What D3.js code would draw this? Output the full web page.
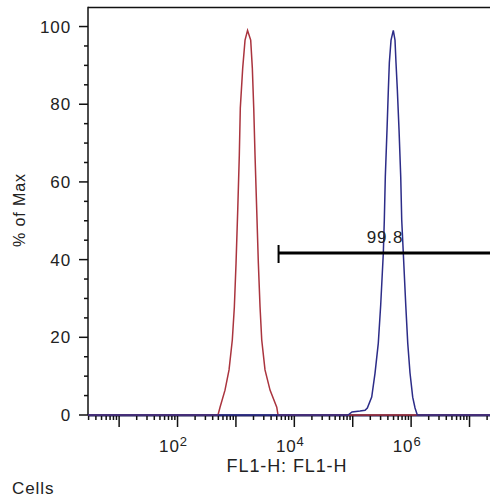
<!DOCTYPE html>
<html>
<head>
<meta charset="utf-8">
<script src="https://cdn.jsdelivr.net/npm/d3@7"></script>
<style>
  html, body { margin: 0; padding: 0; background: #fff; }
  svg { display: block; }
  text { font-family: "Liberation Sans", Arial, sans-serif; fill: #222; letter-spacing: 0.9px; }
</style>
</head>
<body>
<svg id="chart" width="490" height="498"></svg>
<script>
// ---------- data ----------
// x positions are log10(FL1-H) values; y values are "% of Max"
const redLog10 = [0.467, 2.693, 2.728, 2.813, 2.882, 2.938, 2.973, 3.002, 3.031, 3.058, 3.075, 3.116, 3.156, 3.199,
                  3.253, 3.281, 3.305, 3.327, 3.356, 3.384, 3.413, 3.442, 3.498, 3.584, 3.699, 3.721, 7.39];
const redPct   = [0, 0, 2.0, 6.4, 11.6, 19.3, 27.8, 39.1, 52.8, 66.9, 79.0, 89.3, 96.5, 99.0,
                  96.5, 89.3, 79.0, 66.9, 52.8, 39.1, 27.8, 19.3, 11.6, 6.4, 2.0, 0, 0];

const blueLog10 = [0.467, 4.920, 4.988, 5.125, 5.211, 5.250, 5.325, 5.382, 5.438, 5.479, 5.524, 5.541, 5.558, 5.587,
                   5.610, 5.627, 5.656, 5.695, 5.724, 5.741, 5.764, 5.793, 5.822, 5.839, 5.866, 5.908, 5.942,
                   5.981, 6.027, 6.067, 6.106, 7.39];
const bluePct   = [0, 0, 0.8, 1.0, 1.2, 1.8, 4.6, 10.8, 18.5, 28.3, 41.7, 50.2, 61.3, 73.4,
                   83.7, 90.7, 96.5, 99.0, 96.5, 90.7, 83.7, 73.4, 61.3, 50.2, 41.7, 28.3, 18.5,
                   10.8, 4.6, 1.8, 0, 0];

const xDomainLog10 = [0.467, 7.39];
const yDomain = [0, 104.9];
const yMajorTicks = [0, 20, 40, 60, 80, 100];
const yMinorStep = 5;
const xLabelDecades = [2, 4, 6];

const gateLog10 = [3.73, 7.39];
const gateLevel = 41.7;
const gateLabel = "99.8";

const xTitle = "FL1-H: FL1-H";
const yTitle = "% of Max";
const footer = "Cells";

// ---------- layout ----------
const L = 88, R = 492.3, T = 7.5, B = 415;
const svg = d3.select("#chart");

const x = d3.scaleLog().domain(xDomainLog10.map(e => Math.pow(10, e))).range([L, R]);
const y = d3.scaleLinear().domain(yDomain).range([B, T]);

// frame: left axis line, top border, bottom line
svg.append("line").attr("x1", L).attr("x2", R + 5).attr("y1", T).attr("y2", T)
  .attr("stroke", "#111").attr("stroke-width", 1.5);
svg.append("line").attr("x1", L).attr("x2", L).attr("y1", T - 0.75).attr("y2", B)
  .attr("stroke", "#111").attr("stroke-width", 1.5);
svg.append("line").attr("x1", L).attr("x2", R + 5).attr("y1", B + 0.4).attr("y2", B + 0.4)
  .attr("stroke", "#1a1a50").attr("stroke-width", 2.4);

// y ticks
const yMinor = d3.range(yDomain[0], 101, yMinorStep).filter(v => !yMajorTicks.includes(v));
svg.selectAll(".ymin").data(yMinor).enter().append("line")
  .attr("x1", L - 4).attr("x2", L).attr("y1", d => y(d)).attr("y2", d => y(d))
  .attr("stroke", "#111").attr("stroke-width", 1.5);
svg.selectAll(".ymaj").data(yMajorTicks).enter().append("line")
  .attr("x1", L - 9).attr("x2", L).attr("y1", d => y(d)).attr("y2", d => y(d))
  .attr("stroke", "#111").attr("stroke-width", 1.5);
svg.selectAll(".ylab").data(yMajorTicks).enter().append("text")
  .attr("x", 71).attr("y", d => y(d)).attr("dy", "0.36em")
  .attr("text-anchor", "end").attr("font-size", 17).text(d => d);

// x ticks (log)
const xMajor = [], xMinor = [];
for (let k = 0; k <= 7; k++) {
  for (let m = 1; m <= 9; m++) {
    const v = m * Math.pow(10, k);
    if (v < x.domain()[0] || v > x.domain()[1]) continue;
    (m === 1 ? xMajor : xMinor).push(v);
  }
}
svg.selectAll(".xmin").data(xMinor).enter().append("line")
  .attr("x1", d => x(d)).attr("x2", d => x(d)).attr("y1", B).attr("y2", B + 5)
  .attr("stroke", "#111").attr("stroke-width", 1.5);
svg.selectAll(".xmaj").data(xMajor).enter().append("line")
  .attr("x1", d => x(d)).attr("x2", d => x(d)).attr("y1", B).attr("y2", B + 12)
  .attr("stroke", "#111").attr("stroke-width", 1.5);

const xl = svg.selectAll(".xlab").data(xLabelDecades).enter().append("text")
  .attr("x", d => x(Math.pow(10, d)) - 4).attr("y", 452)
  .attr("text-anchor", "middle").attr("font-size", 17);
xl.append("tspan").text("10");
xl.append("tspan").attr("dy", -6).attr("font-size", 13).text(d => d);

// histograms
const line = d3.line().x(d => x(Math.pow(10, d[0]))).y(d => y(d[1]));
svg.append("path").datum(redLog10.map((e, i) => [e, redPct[i]]))
  .attr("d", line).attr("fill", "none").attr("stroke", "#aa343e").attr("stroke-width", 1.5);
svg.append("path").datum(blueLog10.map((e, i) => [e, bluePct[i]]))
  .attr("d", line).attr("fill", "none").attr("stroke", "#2c2c88").attr("stroke-width", 1.5);

// gate
const gx0 = x(Math.pow(10, gateLog10[0])), gx1 = x(Math.pow(10, gateLog10[1]));
svg.append("line").attr("x1", gx0).attr("x2", gx1 + 5).attr("y1", y(gateLevel)).attr("y2", y(gateLevel))
  .attr("stroke", "#000").attr("stroke-width", 3);
svg.append("line").attr("x1", gx0).attr("x2", gx0).attr("y1", y(gateLevel) - 8).attr("y2", y(gateLevel) + 10)
  .attr("stroke", "#000").attr("stroke-width", 2);
svg.append("text").attr("x", 385).attr("y", y(gateLevel) - 10)
  .attr("text-anchor", "middle").attr("font-size", 17).text(gateLabel);

// titles
svg.append("text").attr("x", 287).attr("y", 472).attr("text-anchor", "middle")
  .attr("font-size", 18).text(xTitle);
svg.append("text").attr("transform", "translate(25,210) rotate(-90)")
  .attr("text-anchor", "middle").attr("font-size", 16).text(yTitle);
svg.append("text").attr("x", 12).attr("y", 494).attr("font-size", 17).text(footer);
</script>
</body>
</html>
